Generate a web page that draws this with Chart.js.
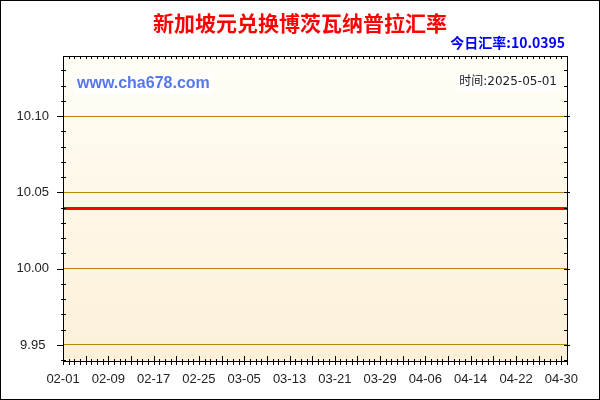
<!DOCTYPE html>
<html>
<head>
<meta charset="utf-8">
<script src="https://cdn.jsdelivr.net/npm/chart.js@4/dist/chart.umd.min.js"></script>
<style>
  html, body { margin: 0; padding: 0; background: #fff; }
  #wrap { width: 600px; height: 400px; }
</style>
</head>
<body>
<div id="wrap"><canvas id="rate-chart" width="600" height="400"></canvas></div>
<script>
// Days shown on the x axis (02-01 .. 05-01)
const dates = [
    '02-01','02-02','02-03','02-04','02-05','02-06','02-07','02-08','02-09','02-10',
    '02-11','02-12','02-13','02-14','02-15','02-16','02-17','02-18','02-19','02-20',
    '02-21','02-22','02-23','02-24','02-25','02-26','02-27','02-28',
    '03-01','03-02','03-03','03-04','03-05','03-06','03-07','03-08','03-09','03-10',
    '03-11','03-12','03-13','03-14','03-15','03-16','03-17','03-18','03-19','03-20',
    '03-21','03-22','03-23','03-24','03-25','03-26','03-27','03-28','03-29','03-30','03-31',
    '04-01','04-02','04-03','04-04','04-05','04-06','04-07','04-08','04-09','04-10',
    '04-11','04-12','04-13','04-14','04-15','04-16','04-17','04-18','04-19','04-20',
    '04-21','04-22','04-23','04-24','04-25','04-26','04-27','04-28','04-29','04-30',
    '05-01'
];

// SGD -> BWP rate, flat over the whole period
const rates = [
    10.0395,10.0395,10.0395,10.0395,10.0395,10.0395,10.0395,10.0395,10.0395,10.0395,
    10.0395,10.0395,10.0395,10.0395,10.0395,10.0395,10.0395,10.0395,10.0395,10.0395,
    10.0395,10.0395,10.0395,10.0395,10.0395,10.0395,10.0395,10.0395,
    10.0395,10.0395,10.0395,10.0395,10.0395,10.0395,10.0395,10.0395,10.0395,10.0395,
    10.0395,10.0395,10.0395,10.0395,10.0395,10.0395,10.0395,10.0395,10.0395,10.0395,
    10.0395,10.0395,10.0395,10.0395,10.0395,10.0395,10.0395,10.0395,10.0395,10.0395,10.0395,
    10.0395,10.0395,10.0395,10.0395,10.0395,10.0395,10.0395,10.0395,10.0395,10.0395,
    10.0395,10.0395,10.0395,10.0395,10.0395,10.0395,10.0395,10.0395,10.0395,10.0395,
    10.0395,10.0395,10.0395,10.0395,10.0395,10.0395,10.0395,10.0395,10.0395,10.0395,
    10.0395
];

const yTicks = [9.95, 10.00, 10.05, 10.10];
const yMin = 9.9395;
const yMax = 10.1395;

const titleText = '新加坡元兑换博茨瓦纳普拉汇率';
const todayText = '今日汇率:10.0395';
const siteText = 'www.cha678.com';
const timeText = '时间:2025-05-01';

function line(ctx, x1, y1, x2, y2) {
    ctx.beginPath();
    ctx.moveTo(x1, y1);
    ctx.lineTo(x2, y2);
    ctx.stroke();
}

// Background, frame, small tick marks and header texts
const framePlugin = {
    id: 'frame',
    beforeDraw(chart) {
        const { ctx, chartArea: a } = chart;
        ctx.save();
        ctx.fillStyle = '#ffffff';
        ctx.fillRect(0, 0, chart.width, chart.height);
        const g = ctx.createLinearGradient(0, a.top, 0, a.bottom);
        g.addColorStop(0, '#fffef6');
        g.addColorStop(1, '#fcf0d8');
        ctx.fillStyle = g;
        ctx.fillRect(a.left, a.top, a.right - a.left, a.bottom - a.top);
        ctx.restore();
    },
    afterDraw(chart) {
        const { ctx, chartArea: a } = chart;
        const xs = chart.scales.x;
        const ys = chart.scales.y;
        ctx.save();
        ctx.strokeStyle = '#000';
        ctx.lineWidth = 1;

        // plot frame
        ctx.strokeRect(Math.round(a.left) + 0.5, Math.round(a.top) + 0.5,
            Math.round(a.right - a.left), Math.round(a.bottom - a.top));

        // day ticks, top and bottom
        dates.forEach((d, i) => {
            const px = Math.round(xs.getPixelForValue(i)) + 0.5;
            line(ctx, px, a.top, px, a.top + 3);
            if (i % 4 === 0) line(ctx, px, a.bottom - 5, px, a.bottom + 4);
            else line(ctx, px, a.bottom - 2, px, a.bottom + 4);
        });

        // 0.01 ticks, left and right
        for (let k = 994; k <= 1013; k++) {
            const v = k / 100;
            const py = Math.round(ys.getPixelForValue(v)) + 0.5;
            const major = k % 5 === 0;
            if (major) {
                line(ctx, a.left - 6, py, a.left, py);
                line(ctx, a.right - 3, py, a.right + 3, py);
            } else {
                line(ctx, a.left - 2, py, a.left + 3, py);
                line(ctx, a.right - 3, py, a.right, py);
            }
        }

        // outer border
        ctx.strokeRect(0.5, 0.5, chart.width - 1, chart.height - 1);

        // title
        ctx.textBaseline = 'middle';
        ctx.textAlign = 'center';
        ctx.fillStyle = '#ff0000';
        ctx.font = 'bold 21px "Noto Sans CJK SC", sans-serif';
        ctx.fillText(titleText, 300, 23);

        // today's rate
        ctx.textAlign = 'right';
        ctx.fillStyle = '#0000ff';
        ctx.font = 'bold 14px "Noto Sans CJK SC", sans-serif';
        ctx.fillText(todayText, 565, 43);

        // site watermark
        ctx.textAlign = 'left';
        ctx.font = 'bold 16px "Liberation Sans", Arial, sans-serif';
        const sw = ctx.measureText(siteText).width;
        ctx.fillStyle = '#ffffff';
        ctx.fillRect(75, 74, sw + 4, 20);
        ctx.fillStyle = '#5577ee';
        ctx.fillText(siteText, 77, 84);

        // time stamp
        ctx.textAlign = 'right';
        ctx.font = '12px "DejaVu Sans", "Noto Sans CJK SC", sans-serif';
        const tw = ctx.measureText(timeText).width;
        ctx.fillStyle = '#ffffff';
        ctx.fillRect(557 - tw - 2, 74, tw + 4, 17);
        ctx.fillStyle = '#222222';
        ctx.fillText(timeText, 557, 82);

        ctx.restore();
    }
};

new Chart(document.getElementById('rate-chart'), {
    type: 'line',
    data: {
        labels: dates,
        datasets: [{
            data: rates,
            borderColor: '#ff0000',
            borderWidth: 3,
            pointRadius: 0,
            fill: false,
            tension: 0
        }]
    },
    options: {
        responsive: false,
        devicePixelRatio: 1,
        animation: false,
        layout: { padding: { top: 56, right: 33, bottom: 0, left: 0 } },
        plugins: {
            legend: { display: false },
            tooltip: { enabled: false }
        },
        scales: {
            x: {
                offset: false,
                border: { display: false },
                grid: { display: false, drawTicks: false },
                afterFit(scale) { scale.height = 39; },
                ticks: {
                    autoSkip: false,
                    maxRotation: 0,
                    padding: 11,
                    color: '#222',
                    font: { family: "'Liberation Sans', Arial, sans-serif", size: 13 },
                    callback: (val, i) => (i % 8 === 0 ? dates[i] : '')
                }
            },
            y: {
                min: yMin,
                max: yMax,
                border: { display: false },
                afterFit(scale) { scale.width = 63; },
                afterBuildTicks(scale) {
                    scale.ticks = yTicks.map(v => ({ value: v }));
                },
                grid: { color: '#b8860b', drawTicks: false },
                ticks: {
                    crossAlign: 'center',
                    padding: 14,
                    color: '#222',
                    font: { family: "'Liberation Sans', Arial, sans-serif", size: 13 },
                    callback: v => v.toFixed(2)
                }
            }
        }
    },
    plugins: [framePlugin]
});
</script>
</body>
</html>
